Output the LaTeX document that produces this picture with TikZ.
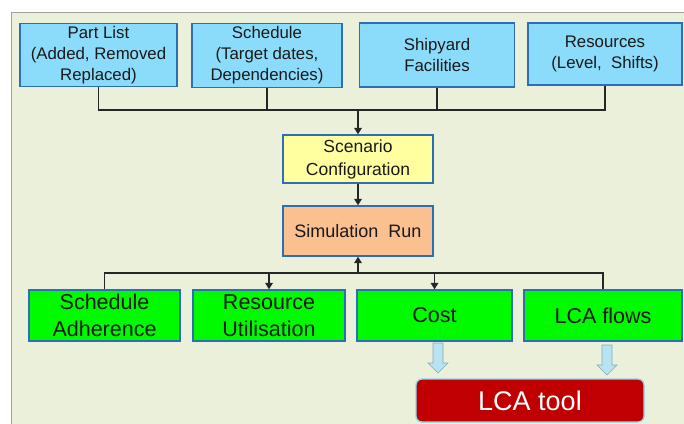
\documentclass[tikz,border=0pt]{standalone}
\usepackage{fontspec}
\setmainfont{Liberation Sans}
\usetikzlibrary{arrows.meta}
\definecolor{bgpanel}{RGB}{235,240,218}
\definecolor{panelrule}{RGB}{160,160,160}
\definecolor{inputfill}{RGB}{139,220,250}
\definecolor{boxrule}{RGB}{46,110,180}
\definecolor{configfill}{RGB}{255,255,160}
\definecolor{runfill}{RGB}{250,192,144}
\definecolor{outfill}{RGB}{0,250,0}
\definecolor{flowfill}{RGB}{183,228,240}
\definecolor{flowrule}{RGB}{130,170,190}
\definecolor{toolfill}{RGB}{192,0,0}
\definecolor{toolrule}{RGB}{140,215,245}
\tikzset{
  box/.style={draw=boxrule, line width=1.3pt, inner sep=0pt, align=center, text=black!90},
  inputbox/.style={box, fill=inputfill, font=\fontsize{16.8}{21}\selectfont},
  configbox/.style={box, fill=configfill, font=\fontsize{17.5}{23}\selectfont},
  runbox/.style={box, fill=runfill, font=\fontsize{18}{23}\selectfont},
  outbox/.style={box, fill=outfill, minimum height=51pt, font=\fontsize{21.5}{27}\selectfont},
  link/.style={line width=1.9pt, black!85},
  tip/.style={link, -{Triangle[length=6.5pt,width=7.5pt]}},
  blockarrow/.style={fill=flowfill, draw=flowrule, line width=0.6pt, line join=miter},
}
\begin{document}
\begin{tikzpicture}[x=1pt, y=-1pt]
  \useasboundingbox (0,0) rectangle (684,423);
  % panel behind the chart
  \fill[white] (0,0) rectangle (684,423);
  \fill[bgpanel] (11,12) rectangle (690,430);
  \draw[panelrule, line width=1pt] (11,430) -- (11,12) -- (690,12);

  % inputs
  \node[inputbox, minimum width=157pt, minimum height=63pt] (parts) at (98.5,55)
    {Part List\\(Added, Removed\\Replaced)};
  \node[inputbox, minimum width=150pt, minimum height=64pt] (sched) at (267,55.5)
    {Schedule\\(Target dates,\\Dependencies)};
  \node[inputbox, minimum width=155pt, minimum height=64pt] (yard) at (437,55)
    {Shipyard\\Facilities};
  \node[inputbox, minimum width=154pt, minimum height=62pt] (res) at (605,54)
    {Resources\\(Level,\ \ Shifts)};

  % configuration and run
  \node[configbox, minimum width=150pt, minimum height=48pt] (config) at (358,159)
    {Scenario\\Configuration};
  \node[runbox, minimum width=150pt, minimum height=50pt] (run) at (358,231)
    {Simulation\ \ Run};

  % outputs
  \node[outbox, minimum width=151pt] (adh) at (104.5,315.5) {Schedule\\Adherence};
  \node[outbox, minimum width=152pt] (util) at (269,315.5) {Resource\\Utilisation};
  \node[outbox, minimum width=155pt] (cost) at (434.5,315.5) {Cost};
  \node[outbox, minimum width=158pt] (flows) at (603,315.5) {LCA flows};

  % LCA tool
  \node[draw=toolrule, line width=1.3pt, fill=toolfill, rounded corners=6pt,
        minimum width=228pt, minimum height=43pt, text=white,
        font=\fontsize{27}{30}\selectfont] (tool) at (530,400.5) {LCA tool};

  % input bus into the configuration
  \coordinate (inbus) at (358,110);
  \draw[link] (parts.south) |- (inbus);
  \draw[link] (sched.south) |- (inbus);
  \draw[link] (yard.south) |- (inbus);
  \draw[link] (res.south) |- (inbus);
  \draw[tip] (inbus) -- (config.north);

  % configuration to run
  \draw[tip] (config.south) -- (run.north);

  % output bus
  \coordinate (outbus) at (358,273);
  \draw[tip] (outbus) -- (run.south);
  \draw[link] (outbus) -| (adh.north);
  \draw[tip] (outbus) -| (util.north);
  \draw[tip] (outbus) -| (cost.north);
  \draw[link] (outbus) -| (flows.north);

  % hand-over arrows into the LCA tool
  \coordinate (costflow) at (438,343);
  \coordinate (lcaflow) at (607,345);
  \draw[blockarrow] (costflow) ++(-5,0) -- ++(10,0) -- ++(0,20) -- ++(5,0)
    -- ++(-10,10) -- ++(-10,-10) -- ++(5,0) -- cycle;
  \draw[blockarrow] (lcaflow) ++(-5,0) -- ++(10,0) -- ++(0,20) -- ++(5,0)
    -- ++(-10,10) -- ++(-10,-10) -- ++(5,0) -- cycle;
\end{tikzpicture}
\end{document}
